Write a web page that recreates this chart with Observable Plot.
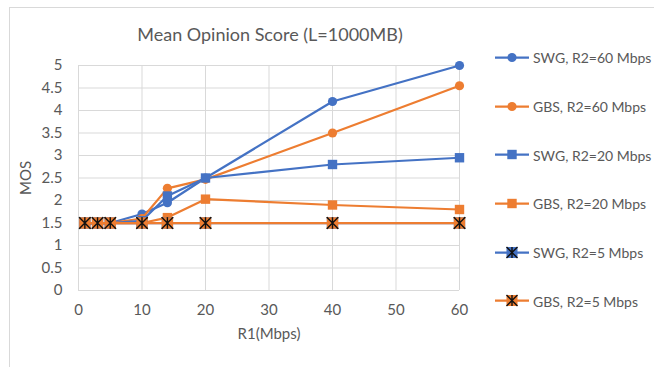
<!DOCTYPE html>
<html>
<head>
<meta charset="utf-8">
<script src="https://cdn.jsdelivr.net/npm/d3@7"></script>
<script src="https://cdn.jsdelivr.net/npm/@observablehq/plot@0.6"></script>
<style>
  body { margin: 0; background: #fff; font-family: Lato, "Open Sans", sans-serif; }
  #chart { position: relative; width: 654px; height: 367px; overflow: hidden; }
  #frame { position: absolute; left: 9px; top: 7px; width: 700px; height: 400px;
           border-left: 1px solid #d9d9d9; border-top: 1px solid #d9d9d9; }
  #title { position: absolute; left: 78px; width: 384px; top: 23px; text-align: center;
           font-size: 18px; color: #595959; white-space: nowrap; }
  #plot { position: absolute; left: 0; top: 0; }
  #legend { position: absolute; left: 494px; top: 0; }
  .item { position: absolute; left: 0; display: flex; align-items: center;
          white-space: nowrap; font-size: 14px; color: #595959; transform: translateY(-50%); }
  .item svg { display: block; margin-right: 2px; }
</style>
</head>
<body>
<div id="chart">
  <div id="frame"></div>
  <div id="plot"></div>
  <div id="title">Mean Opinion Score (L=1000MB)</div>
  <div id="legend"></div>
</div>
<script>
// R1 link rate (Mbps) at which MOS was evaluated
const r1 = [1, 3, 5, 10, 14, 20, 40, 60];

// MOS for each scheme and R2 rate
const swg60 = [1.5, 1.5, 1.5, 1.7, 1.95, 2.5, 4.2, 5.0];
const gbs60 = [1.5, 1.5, 1.5, 1.6, 2.27, 2.47, 3.5, 4.55];
const swg20 = [1.5, 1.5, 1.5, 1.55, 2.1, 2.5, 2.8, 2.95];
const gbs20 = [1.5, 1.5, 1.5, 1.5, 1.62, 2.03, 1.9, 1.8];
const swg5  = [1.5, 1.5, 1.5, 1.5, 1.5, 1.5, 1.5, 1.5];
const gbs5  = [1.5, 1.5, 1.5, 1.5, 1.5, 1.5, 1.5, 1.5];

const seriesNames = ["SWG, R2=60 Mbps", "GBS, R2=60 Mbps", "SWG, R2=20 Mbps",
                     "GBS, R2=20 Mbps", "SWG, R2=5 Mbps", "GBS, R2=5 Mbps"];
const seriesValues = [swg60, gbs60, swg20, gbs20, swg5, gbs5];

const xTicks = [0, 10, 20, 30, 40, 50, 60];
const yTicks = [0, 0.5, 1, 1.5, 2, 2.5, 3, 3.5, 4, 4.5, 5];

const BLUE = "#4472c4", ORANGE = "#ed7d31", GRID = "#d9d9d9", TEXT = "#595959";

// asterisk-style marker: an X with a vertical bar
const asterisk = {
  draw(ctx, size) {
    const h = Math.sqrt(size) / 2;
    ctx.moveTo(-h, -h); ctx.lineTo(h, h);
    ctx.moveTo(h, -h); ctx.lineTo(-h, h);
    ctx.moveTo(0, -h); ctx.lineTo(0, h);
  }
};

const styles = [
  {color: BLUE, marker: "circle"},
  {color: ORANGE, marker: "circle"},
  {color: BLUE, marker: "square"},
  {color: ORANGE, marker: "square"},
  {color: BLUE, marker: "star"},
  {color: ORANGE, marker: "star"}
];

const series = seriesNames.map((name, i) => ({
  name, ...styles[i],
  rows: r1.map((x, j) => ({x, y: seriesValues[i][j], series: name}))
}));

function markerMarks(s) {
  if (s.marker === "circle")
    return [Plot.dot(s.rows, {x: "x", y: "y", r: 4.6, fill: s.color, stroke: "none"})];
  if (s.marker === "square")
    return [Plot.dot(s.rows, {x: "x", y: "y", r: 5.3, symbol: "square", fill: s.color, stroke: "none"})];
  return [
    Plot.dot(s.rows, {x: "x", y: "y", r: 6.4, symbol: "square", fill: s.color, stroke: "none"}),
    Plot.dot(s.rows, {x: "x", y: "y", r: 6.4, symbol: asterisk, fill: "none", stroke: "#111", strokeWidth: 1.4})
  ];
}

const marks = [
  Plot.gridY(yTicks, {stroke: GRID, strokeOpacity: 1, strokeWidth: 1}),
  Plot.gridX(xTicks, {stroke: GRID, strokeOpacity: 1, strokeWidth: 1}),
  Plot.axisX(xTicks, {tickSize: 0, tickPadding: 14, label: "R1(Mbps)", labelAnchor: "center",
                      labelArrow: false, labelOffset: 48, fill: TEXT}),
  Plot.axisY(yTicks, {tickSize: 0, tickPadding: 16, label: "MOS", labelAnchor: "center",
                      labelArrow: false, labelOffset: 58, fill: TEXT, tickFormat: d => String(d)})
];
for (const s of series) {
  marks.push(Plot.line(s.rows, {x: "x", y: "y", stroke: s.color, strokeWidth: 2.25}));
  marks.push(...markerMarks(s));
}

const chart = Plot.plot({
  width: 654,
  height: 367,
  marginLeft: 78,
  marginRight: 195,
  marginTop: 65,
  marginBottom: 77,
  style: {fontFamily: "Lato, 'Open Sans', sans-serif", fontSize: "15px", color: TEXT, background: "transparent"},
  x: {domain: [0, 60]},
  y: {domain: [0, 5]},
  marks
});
document.getElementById("plot").appendChild(chart);

// legend: one row per series, line swatch with marker
const legend = d3.select("#legend");
series.forEach((s, i) => {
  const item = legend.append("div").attr("class", "item").style("top", (57.3 + i * 48.7) + "px");
  const svg = item.append("svg").attr("width", 37).attr("height", 14);
  svg.append("line").attr("x1", 1).attr("x2", 35).attr("y1", 7).attr("y2", 7)
     .attr("stroke", s.color).attr("stroke-width", 2.25);
  if (s.marker === "circle") {
    svg.append("circle").attr("cx", 18).attr("cy", 7).attr("r", 4.6).attr("fill", s.color);
  } else if (s.marker === "square") {
    svg.append("rect").attr("x", 13.3).attr("y", 2.3).attr("width", 9.4).attr("height", 9.4).attr("fill", s.color);
  } else {
    svg.append("rect").attr("x", 12.5).attr("y", 1.5).attr("width", 11).attr("height", 11).attr("fill", s.color);
    svg.append("path").attr("d", "M12.5,1.5L23.5,12.5M23.5,1.5L12.5,12.5M18,1.5L18,12.5")
       .attr("stroke", "#111").attr("stroke-width", 1.4).attr("fill", "none");
  }
  item.append("span").text(s.name);
});
</script>
</body>
</html>
